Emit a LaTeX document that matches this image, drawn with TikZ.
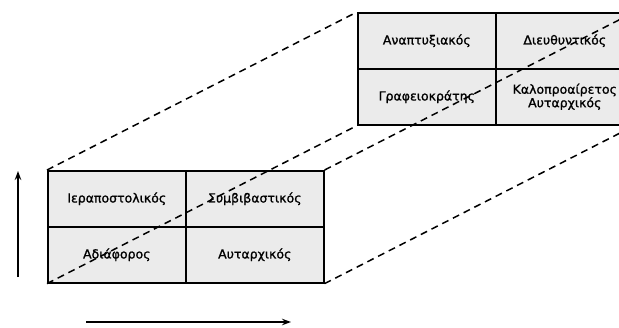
\documentclass[tikz,border=0pt]{standalone}
\usepackage{fontspec}
\setmainfont[FakeBold=1.2]{DejaVu Sans}
\usetikzlibrary{arrows.meta}
\begin{document}
\begin{tikzpicture}[x=1pt,y=-1pt,
  cell/.style={draw=black, line width=1.6pt, fill=gray!16, minimum width=138pt, minimum height=56pt,
    inner sep=0pt, align=center, font=\fontsize{12.5}{13.5}\selectfont, anchor=north west},
  dashline/.style={dashed, dash pattern=on 7pt off 5pt, line width=1.5pt},
  axis/.style={line width=1.4pt, -{Stealth[length=9pt,width=6.5pt]}}]
\clip (0,0) rectangle (619,327);
\fill[white] (0,0) rectangle (619,327);
% lower box
\node[cell] (L1) at (47,170) {Ιεραποστολικός};
\node[cell] (L2) at (185,170) {Συμβιβαστικός};
\node[cell] (L3) at (47,226) {Αδιάφορος};
\node[cell] (L4) at (185,226) {Αυταρχικός};
% upper box
\node[cell] (U1) at (357,12) {Αναπτυξιακός};
\node[cell] (U2) at (495,12) {Διευθυντικός};
\node[cell] (U3) at (357,68) {Γραφειοκράτης};
\node[cell] (U4) at (495,68) {Καλοπροαίρετος\\Αυταρχικός};
% connecting dashed lines
\draw[dashline] (L1.north west) -- (U1.north west);
\draw[dashline] (L3.south west) -- (U3.south west);
\draw[dashline] (L2.north east) -- (U2.north east);
\draw[dashline] (L4.south east) -- (U4.south east);
% axes
\coordinate (v0) at (18,277);
\coordinate (v1) at (18,171);
\coordinate (h0) at (86,322);
\coordinate (h1) at (291,322);
\draw[axis] (v0) -- (v1);
\draw[axis] (h0) -- (h1);
\end{tikzpicture}
\end{document}
